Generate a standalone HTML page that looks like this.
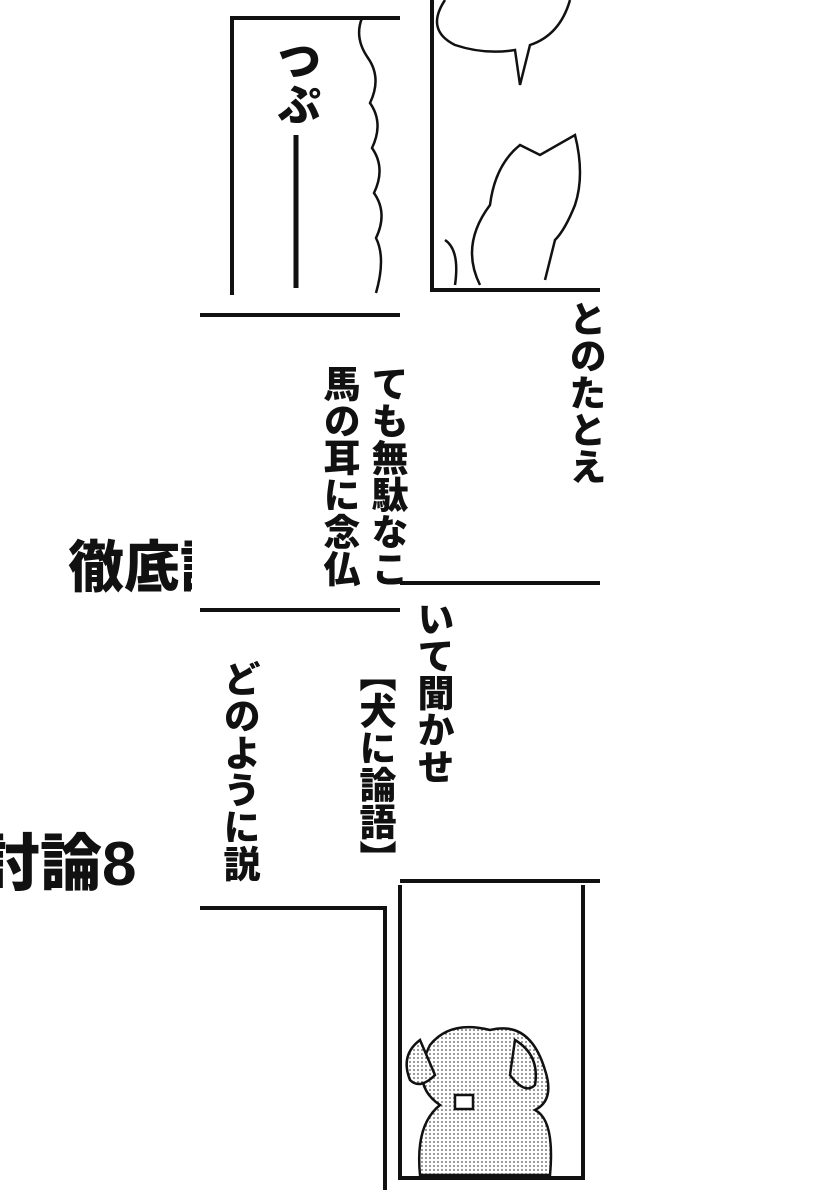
<!DOCTYPE html>
<html><head><meta charset="utf-8"><style>
html,body{margin:0;padding:0;background:#fff;}
body{width:820px;height:1200px;position:relative;overflow:hidden;font-family:"Liberation Sans","Noto Sans CJK JP",sans-serif;}
.v{position:absolute;writing-mode:vertical-rl;font-weight:900;color:#111;font-size:37px;line-height:1;white-space:nowrap;}
.h{position:absolute;font-weight:900;color:#111;white-space:nowrap;line-height:1;}
svg{position:absolute;left:0;top:0;}
</style></head><body>
<div class="h" style="left:68px;top:540px;font-size:56px;">徹底討</div>
<div style="position:absolute;left:192px;top:530px;width:60px;height:75px;background:#fff;"></div>
<div class="h" style="left:-22px;top:834px;font-size:62px;">討論8</div>
<svg width="820" height="1200" viewBox="0 0 820 1200">
<defs><pattern id="dots" width="4" height="4" patternUnits="userSpaceOnUse"><rect width="4" height="4" fill="#fff"/><circle cx="2" cy="2" r="0.9" fill="#555"/></pattern></defs>
<g stroke="#111" stroke-width="4" fill="none">
<path d="M232 295 V18 H400"/>
<path d="M362 18 q-8 20 6 40 q14 20 2 45 q14 20 2 45 q14 20 2 45 q14 20 2 45 q10 20 0 55" stroke-width="2.5"/>
<line x1="296" y1="135" x2="296" y2="288" stroke-width="5"/>
<path d="M432 0 V290 H600"/>
<path d="M445 0 q-20 30 10 45 q30 10 60 5 l5 35 l10 -40 q30 -10 40 -45" stroke-width="2.5"/>
<path d="M480 285 q-20 -40 10 -80 q5 -40 30 -60 l20 10 l35 -20 q10 40 0 70 q-10 25 -20 35 l-10 40" stroke-width="2.5"/>
<path d="M445 240 q15 10 10 45" stroke-width="2.5"/>
<line x1="200" y1="315" x2="400" y2="315"/>
<line x1="400" y1="583" x2="600" y2="583"/>
<line x1="200" y1="610" x2="400" y2="610"/>
<line x1="400" y1="881" x2="600" y2="881"/>
<path d="M200 908 H385 V1190"/>
<path d="M400 885 V1178 H583 V885"/>
</g>
<g stroke="#111" stroke-width="2.5" fill="url(#dots)">
<path d="M420 1175 q-5 -50 20 -70 q-30 -20 -10 -60 q20 -25 60 -15 q40 -10 55 40 q10 30 -10 40 q20 10 15 65 z"/>
<path d="M420 1040 q-20 15 -10 40 q10 10 25 -5 z"/>
<path d="M515 1040 q25 15 20 45 q-10 10 -25 -10 z"/>
<rect x="455" y="1095" width="18" height="14" fill="#fff"/>
</g>
</svg>
<div class="v" style="left:272px;top:38px;font-size:44px;">つぷ</div>
<div class="v" style="left:368px;top:365px;">ても無駄なこ</div>
<div class="v" style="left:320px;top:365px;">馬の耳に念仏</div>
<div class="v" style="left:566px;top:300px;">とのたとえ</div>
<div class="v" style="left:356px;top:655px;">【犬に論語】</div>
<div class="v" style="left:220px;top:660px;">どのように説</div>
<div class="v" style="left:414px;top:600px;">いて聞かせ</div>
</body></html>
